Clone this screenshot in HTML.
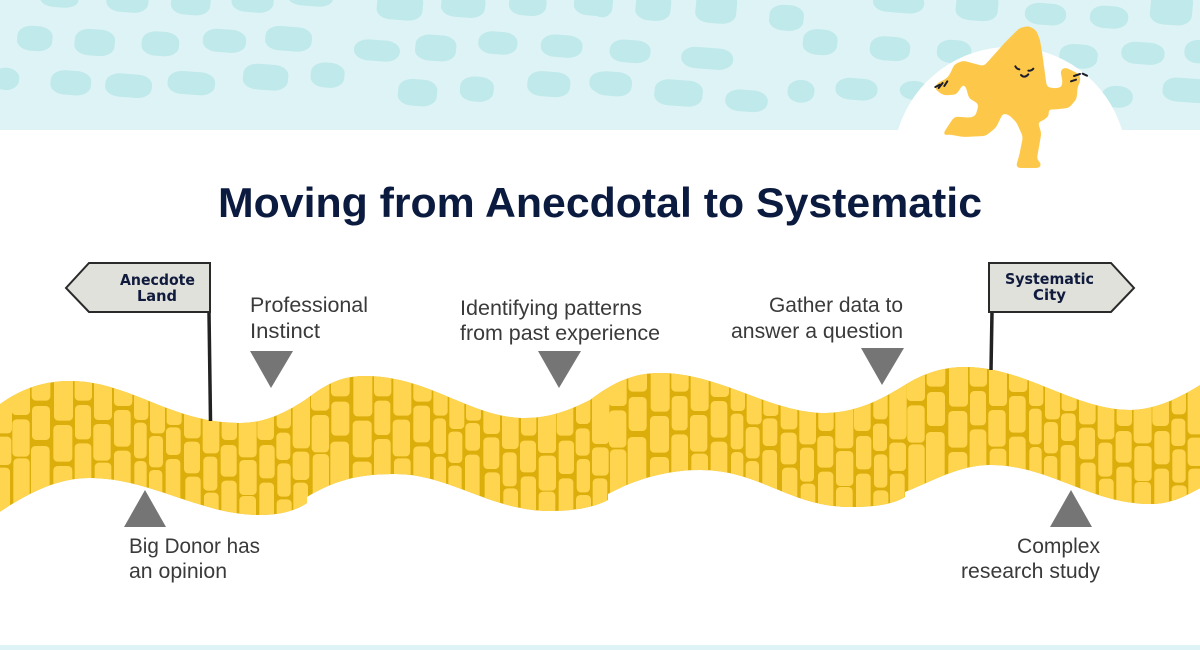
<!DOCTYPE html>
<html>
<head>
<meta charset="utf-8">
<title>Moving from Anecdotal to Systematic</title>
<style>
html,body{margin:0;padding:0;background:#fff;width:1200px;height:650px;overflow:hidden}
svg{display:block}
.b{font-family:"Liberation Sans",sans-serif;font-size:21px;fill:#3a3a3a}
.s{font-family:"DejaVu Sans",sans-serif;font-weight:bold;font-size:15px;fill:#0f1a3c}
.bl rect{rx:38px;ry:30px;transform-box:fill-box;transform-origin:center;transform:rotate(5deg)}
</style>
</head>
<body>
<svg width="1200" height="650" viewBox="0 0 1200 650" xmlns="http://www.w3.org/2000/svg">
<defs>
<filter id="sm" color-interpolation-filters="sRGB"><feGaussianBlur stdDeviation="6"/><feComponentTransfer><feFuncA type="linear" slope="10" intercept="-4.5"/></feComponentTransfer></filter>
<clipPath id="road"><path d="M-5,408 C20,388 45,381 70,381 C130,381 170,423 240,423 C265,423 285,413 305,400 C325,385 340,376 365,376 C430,376 470,418 525,418 C550,418 570,410 590,400 C610,385 630,373 660,373 C720,373 770,413 825,413 C855,413 880,400 900,388 C920,375 940,367 965,367 C1025,367 1075,410 1130,410 C1155,410 1180,398 1205,382 L1205,485 C1185,497 1170,504 1150,504 C1090,504 1050,465 990,465 C960,465 935,480 905,492 L905,497 C895,503 880,507 850,507 C790,507 760,470 700,470 C670,470 640,477 608,494 L608,500 C595,507 575,511 550,511 C490,511 450,474 395,474 C360,474 335,480 307,497 L307,503 C295,511 280,515 260,515 C200,515 150,478 90,478 C55,478 25,495 -5,515 Z"/></clipPath>
<g id="t" fill="#ffd54f">
<rect x="35" y="-100" width="55" height="265" rx="13"/><rect x="37" y="178" width="52" height="112" rx="13"/><rect x="40" y="295" width="49" height="265" rx="13"/>
<rect x="95" y="-100" width="56" height="222" rx="13"/><rect x="96" y="138" width="54" height="102" rx="13"/><rect x="93" y="258" width="56" height="302" rx="13"/>
<rect x="162" y="-100" width="57" height="282" rx="13"/><rect x="160" y="195" width="57" height="110" rx="13"/><rect x="160" y="318" width="57" height="242" rx="13"/>
<rect x="224" y="-100" width="52" height="222" rx="13"/><rect x="225" y="135" width="48" height="103" rx="13"/><rect x="224" y="250" width="50" height="310" rx="13"/>
<rect x="282" y="-100" width="54" height="280" rx="13"/><rect x="280" y="192" width="52" height="110" rx="13"/><rect x="284" y="308" width="50" height="252" rx="13"/>
<rect x="342" y="-100" width="55" height="238" rx="13"/><rect x="342" y="150" width="50" height="110" rx="13"/><rect x="342" y="272" width="50" height="288" rx="13"/>
<rect x="402" y="-100" width="43" height="280" rx="13"/><rect x="402" y="188" width="38" height="107" rx="13"/><rect x="403" y="303" width="37" height="257" rx="13"/>
<rect x="450" y="-100" width="45" height="320" rx="13"/><rect x="447" y="228" width="42" height="94" rx="13"/><rect x="447" y="330" width="40" height="230" rx="13"/>
<rect x="500" y="-100" width="45" height="295" rx="11"/><rect x="498" y="202" width="44" height="83" rx="13"/><rect x="497" y="297" width="44" height="263" rx="13"/>
<rect x="552" y="-100" width="50" height="335" rx="13"/><rect x="552" y="245" width="48" height="95" rx="13"/><rect x="556" y="350" width="46" height="210" rx="13"/>
<rect x="608" y="-100" width="50" height="380" rx="13"/><rect x="610" y="290" width="42" height="102" rx="13"/><rect x="612" y="398" width="44" height="162" rx="13"/>
<rect x="665" y="-100" width="46" height="340" rx="13"/><rect x="662" y="255" width="48" height="95" rx="13"/><rect x="664" y="362" width="46" height="198" rx="13"/>
<rect x="716" y="-100" width="54" height="392" rx="13"/><rect x="718" y="300" width="52" height="105" rx="13"/><rect x="718" y="408" width="50" height="152" rx="13"/>
<rect x="772" y="-100" width="50" height="340" rx="13"/><rect x="778" y="255" width="46" height="100" rx="13"/><rect x="778" y="368" width="44" height="192" rx="13"/>
<rect x="830" y="-100" width="43" height="305" rx="13"/><rect x="829" y="218" width="42" height="82" rx="13"/><rect x="832" y="310" width="40" height="100" rx="13"/><rect x="830" y="418" width="45" height="142" rx="13"/>
<rect x="878" y="-100" width="52" height="365" rx="13"/><rect x="878" y="275" width="50" height="85" rx="13"/><rect x="880" y="368" width="44" height="192" rx="13"/>
</g>
</defs>

<!-- sky -->
<rect x="0" y="0" width="1200" height="130" fill="#def3f5"/>
<rect x="0" y="645" width="1200" height="5" fill="#def3f5"/>
<g class="bl" fill="#bfe9ea" transform="scale(0.3827,0.3333)">
<rect x="105" y="-25" width="100" height="47"/><rect x="278" y="-30" width="110" height="67"/><rect x="447" y="-30" width="103" height="75"/><rect x="605" y="-30" width="110" height="67"/><rect x="752" y="-30" width="118" height="48"/><rect x="985" y="-25" width="120" height="85"/><rect x="1153" y="-25" width="115" height="77"/><rect x="1330" y="-25" width="98" height="72"/><rect x="1500" y="-25" width="100" height="72"/>
<rect x="45" y="78" width="92" height="75"/><rect x="195" y="88" width="105" height="79"/><rect x="370" y="95" width="98" height="73"/><rect x="530" y="88" width="113" height="69"/><rect x="693" y="80" width="122" height="73"/><rect x="925" y="120" width="120" height="63"/><rect x="1085" y="105" width="107" height="78"/><rect x="1250" y="95" width="102" height="68"/><rect x="1413" y="105" width="109" height="67"/>
<rect x="-20" y="203" width="70" height="67"/><rect x="132" y="212" width="106" height="73"/><rect x="275" y="222" width="122" height="70"/><rect x="438" y="215" width="124" height="69"/><rect x="635" y="193" width="118" height="77"/><rect x="812" y="188" width="88" height="75"/><rect x="1040" y="238" width="102" height="80"/><rect x="1202" y="230" width="88" height="75"/><rect x="1378" y="215" width="112" height="75"/><rect x="1540" y="215" width="70" height="65"/>
<g transform="translate(1568,0)">
<rect x="-20" y="-25" width="53" height="77"/><rect x="93" y="-25" width="92" height="87"/><rect x="250" y="-25" width="107" height="95"/><rect x="442" y="15" width="90" height="77"/><rect x="713" y="-25" width="134" height="63"/><rect x="930" y="-25" width="110" height="87"/><rect x="1110" y="10" width="108" height="65"/><rect x="1280" y="18" width="100" height="67"/><rect x="1438" y="-25" width="110" height="100"/>
<rect x="25" y="120" width="107" height="68"/><rect x="212" y="143" width="136" height="64"/><rect x="530" y="88" width="90" height="77"/><rect x="705" y="110" width="105" height="72"/><rect x="880" y="120" width="90" height="70"/><rect x="1200" y="133" width="100" height="72"/><rect x="1362" y="127" width="113" height="66"/><rect x="1527" y="120" width="73" height="70"/>
<rect x="-20" y="215" width="103" height="73"/><rect x="142" y="240" width="126" height="78"/><rect x="327" y="270" width="111" height="65"/><rect x="490" y="240" width="70" height="68"/><rect x="615" y="235" width="110" height="65"/><rect x="783" y="243" width="77" height="57"/><rect x="1310" y="258" width="82" height="65"/><rect x="1470" y="235" width="130" height="72"/>
</g>
</g>
<path d="M898,130 A117,117 0 0 1 1122,130 L1122,140 L898,140 Z" fill="#fff"/>

<!-- character -->
<g transform="translate(920,20) scale(0.33333)">
<polygon filter="url(#sm)" fill="#fdc84a" stroke="#fdc84a" stroke-width="8" stroke-linejoin="round" points="325,22 345,33 356,60 364,110 377,205 405,209 430,205 431,180 425,153 435,146 474,165 478,180 469,200 466,235 445,260 400,265 377,262 384,285 365,300 347,299 360,340 352,385 346,420 360,432 358,440 292,440 302,405 313,350 293,305 270,282 247,274 225,320 195,344 130,347 85,339 72,344 105,294 150,297 170,291 181,250 150,232 143,205 132,180 107,220 72,222 48,205 56,191 82,179 93,165 106,136 130,126 193,143 258,70 300,28"/>
<g fill="none" stroke="#1d1d2b" stroke-width="6" stroke-linecap="round">
<path d="M46,201 L60,194"/><path d="M56,204 L68,189"/><path d="M73,198 L82,184"/>
<path d="M462,168 L480,162"/><path d="M453,184 L468,179"/><path d="M488,161 L501,167"/>
<path d="M286,139 Q290,147 298,148"/><path d="M325,152 Q334,153 340,146"/><path d="M303,165 Q314,176 325,163"/>
</g>
</g>

<!-- title -->
<text x="218" y="217" font-family="'Liberation Sans',sans-serif" font-weight="bold" font-size="42" fill="#0b1a3f" textLength="764" lengthAdjust="spacingAndGlyphs">Moving from Anecdotal to Systematic</text>

<!-- road -->
<g clip-path="url(#road)">
<rect x="0" y="350" width="1200" height="180" fill="#dbae0b"/>
<g transform="translate(0,360) scale(0.33333)">
<use href="#t" x="-894" y="-45"/>
<use href="#t" x="0" y="0"/>
<use href="#t" x="898" y="-13"/>
<use href="#t" x="1790" y="-27"/>
<use href="#t" x="2685" y="-42"/>
</g>
</g>

<!-- signs -->
<path d="M209,312 L210.5,421" stroke="#222" stroke-width="3.5" fill="none"/>
<path d="M992,312 L991,370" stroke="#222" stroke-width="3.5" fill="none"/>
<polygon points="210,263 89,263 66,288 89,312 210,312" fill="#e1e1dc" stroke="#2a2a2a" stroke-width="2"/>
<polygon points="989,263 1111,263 1134,288 1111,312 989,312" fill="#e1e1dc" stroke="#2a2a2a" stroke-width="2"/>
<text class="s" x="120" y="285" textLength="75" lengthAdjust="spacingAndGlyphs">Anecdote</text>
<text class="s" x="137" y="301" textLength="40" lengthAdjust="spacingAndGlyphs">Land</text>
<text class="s" x="1005" y="284" textLength="89" lengthAdjust="spacingAndGlyphs">Systematic</text>
<text class="s" x="1033" y="300" textLength="33" lengthAdjust="spacingAndGlyphs">City</text>

<!-- triangles -->
<g fill="#757575">
<polygon points="250,351 293,351 271,388"/>
<polygon points="538,351 581,351 559,388"/>
<polygon points="861,348 904,348 882,385"/>
<polygon points="124,527 166,527 145,490"/>
<polygon points="1050,527 1092,527 1071,490"/>
</g>

<!-- labels -->
<text class="b" x="250" y="312" textLength="118" lengthAdjust="spacingAndGlyphs">Professional</text>
<text class="b" x="250" y="338" textLength="70" lengthAdjust="spacingAndGlyphs">Instinct</text>
<text class="b" x="460" y="315" textLength="182" lengthAdjust="spacingAndGlyphs">Identifying patterns</text>
<text class="b" x="460" y="340" textLength="200" lengthAdjust="spacingAndGlyphs">from past experience</text>
<text class="b" x="769" y="312" textLength="134" lengthAdjust="spacingAndGlyphs">Gather data to</text>
<text class="b" x="731" y="338" textLength="172" lengthAdjust="spacingAndGlyphs">answer a question</text>
<text class="b" x="129" y="553" textLength="131" lengthAdjust="spacingAndGlyphs">Big Donor has</text>
<text class="b" x="129" y="578" textLength="98" lengthAdjust="spacingAndGlyphs">an opinion</text>
<text class="b" x="1017" y="553" textLength="83" lengthAdjust="spacingAndGlyphs">Complex</text>
<text class="b" x="961" y="578" textLength="139" lengthAdjust="spacingAndGlyphs">research study</text>
</svg>
</body>
</html>
